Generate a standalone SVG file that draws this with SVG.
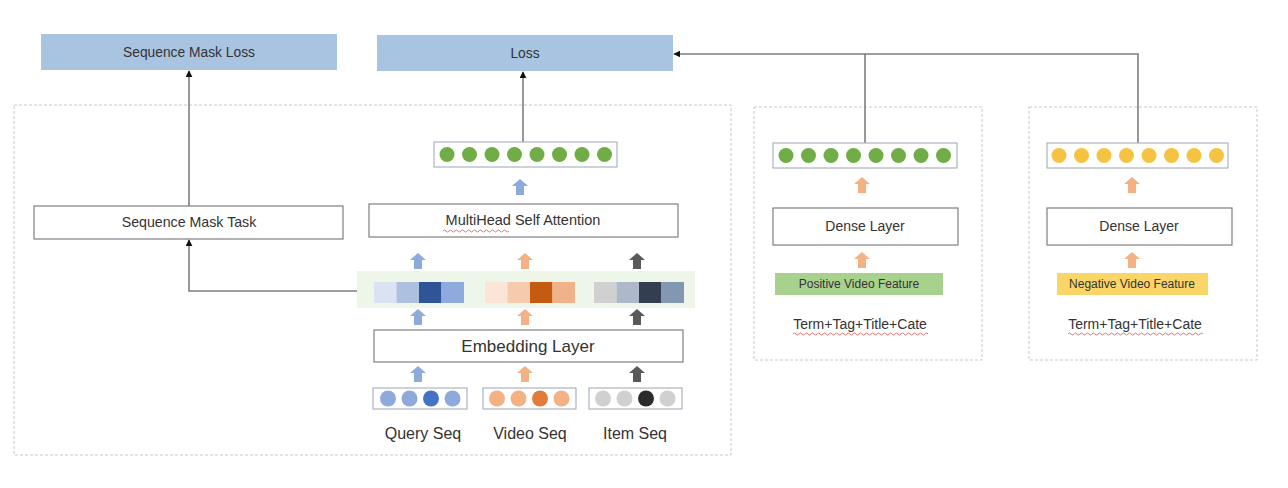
<svg xmlns="http://www.w3.org/2000/svg" xmlns:xlink="http://www.w3.org/1999/xlink" width="1288" height="488" viewBox="0 0 1288 488">
<defs>
<style>
.t{font-family:"Liberation Sans",Arial,sans-serif;fill:#333;text-anchor:middle}
.loss{fill:#a8c4e0}
.box{fill:#fff;stroke:#7f7f7f;stroke-width:1.2}
.dash{fill:none;stroke:#c8c8c8;stroke-width:1;stroke-dasharray:3 2}
.conn{fill:none;stroke:#7f7f7f;stroke-width:1.6}
.vbox{fill:#fff;stroke:#9aa5b1;stroke-width:1}
.wavy{fill:none;stroke:#e05050;stroke-width:0.8}
</style>
<marker id="ah" viewBox="0 0 10 10" refX="9" refY="5" markerWidth="7" markerHeight="7" orient="auto" markerUnits="userSpaceOnUse">
<path d="M0,0 L10,5 L0,10 Z" fill="#111"/>
</marker>
<path id="ba" d="M0,0 L8,7 L4,7 L4,16 L-4,16 L-4,7 L-8,7 Z"/>
<g id="g8">
<circle cx="0" cy="0" r="7.5"/><circle cx="22.5" cy="0" r="7.5"/><circle cx="45" cy="0" r="7.5"/><circle cx="67.5" cy="0" r="7.5"/>
<circle cx="90" cy="0" r="7.5"/><circle cx="112.5" cy="0" r="7.5"/><circle cx="135" cy="0" r="7.5"/><circle cx="157.5" cy="0" r="7.5"/>
</g>
</defs>
<rect width="1288" height="488" fill="#fff"/>

<!-- containers -->
<g id="containers">
<rect class="dash" x="14" y="105" width="717" height="350"/>
<rect class="dash" x="754" y="107" width="228" height="253"/>
<rect class="dash" x="1029" y="107" width="228" height="253"/>
</g>

<g id="connectors">
<path class="conn" d="M189,206 V71" marker-end="url(#ah)"/>
<path class="conn" d="M523,142 V72" marker-end="url(#ah)"/>
<path class="conn" d="M360,291 H189 V240" marker-end="url(#ah)"/>
<path class="conn" d="M865,143 V54 H674" marker-end="url(#ah)"/>
<path class="conn" d="M1138,143 V54 H865"/>
</g>

<g id="seq-mask-loss">
<rect class="loss" x="41" y="34" width="296" height="36"/>
<text class="t" x="189" y="57" font-size="13.8">Sequence Mask Loss</text>
</g>
<g id="loss">
<rect class="loss" x="377" y="35" width="296" height="36"/>
<text class="t" x="525" y="58" font-size="13.8">Loss</text>
</g>

<g id="seq-mask-task">
<rect class="box" x="34" y="206" width="309" height="33"/>
<text class="t" x="189" y="227" font-size="14.2">Sequence Mask Task</text>
</g>

<g id="output-vector">
<rect class="vbox" x="434" y="142" width="183" height="25"/>
<use xlink:href="#g8" x="447" y="154.5" fill="#70ad47"/>
<use xlink:href="#ba" x="520" y="179" fill="#8eaadb"/>
</g>

<g id="mhsa">
<rect class="box" x="369" y="204" width="309" height="33"/>
<text class="t" x="523" y="225" font-size="14.5">MultiHead Self Attention</text>
<path class="wavy" d="M443,231 q1.5,-2 3,0 t3,0 t3,0 t3,0 t3,0 t3,0 t3,0 t3,0 t3,0 t3,0 t3,0 t3,0 t3,0 t3,0 t3,0 t3,0 t3,0 t3,0 t3,0 t3,0 t3,0 t3,0"/>
</g>

<g id="embedding-strip">
<rect x="357" y="271" width="338" height="37" fill="#eef5e9"/>
<use xlink:href="#ba" x="418" y="253" fill="#8eaadb"/>
<use xlink:href="#ba" x="525" y="253" fill="#f4b183"/>
<use xlink:href="#ba" x="637" y="253" fill="#595959"/>
<rect x="374" y="282" width="22.5" height="21" fill="#dae3f3"/>
<rect x="396.5" y="282" width="22.5" height="21" fill="#adc0e0"/>
<rect x="419" y="282" width="22.5" height="21" fill="#2f5597"/>
<rect x="441.5" y="282" width="22.5" height="21" fill="#8faadc"/>
<rect x="485" y="282" width="22.5" height="21" fill="#fbe5d6"/>
<rect x="507.5" y="282" width="22.5" height="21" fill="#f6cbad"/>
<rect x="530" y="282" width="22.5" height="21" fill="#c55a11"/>
<rect x="552.5" y="282" width="22.5" height="21" fill="#f0b28b"/>
<rect x="594" y="282" width="22.5" height="21" fill="#d0d0d0"/>
<rect x="616.5" y="282" width="22.5" height="21" fill="#adb9ca"/>
<rect x="639" y="282" width="22.5" height="21" fill="#333f50"/>
<rect x="661.5" y="282" width="22.5" height="21" fill="#8497b0"/>
<use xlink:href="#ba" x="418" y="309" fill="#8eaadb"/>
<use xlink:href="#ba" x="525" y="309" fill="#f4b183"/>
<use xlink:href="#ba" x="637" y="309" fill="#595959"/>
</g>

<g id="embedding-layer">
<rect class="box" x="374" y="330" width="309" height="32"/>
<text class="t" x="528" y="352" font-size="17">Embedding Layer</text>
</g>

<g id="query-seq">
<use xlink:href="#ba" x="418" y="366" fill="#8eaadb"/>
<rect class="vbox" x="373" y="388" width="94" height="21"/>
<circle cx="388" cy="398.5" r="8" fill="#8eaadb"/>
<circle cx="409.5" cy="398.5" r="8" fill="#8eaadb"/>
<circle cx="431" cy="398.5" r="8" fill="#4472c4"/>
<circle cx="452.5" cy="398.5" r="8" fill="#8eaadb"/>
<text class="t" x="423" y="439" font-size="16">Query Seq</text>
</g>
<g id="video-seq">
<use xlink:href="#ba" x="525" y="366" fill="#f4b183"/>
<rect class="vbox" x="483" y="388" width="93" height="21"/>
<circle cx="497" cy="398.5" r="8" fill="#f4b183"/>
<circle cx="518.5" cy="398.5" r="8" fill="#f4b183"/>
<circle cx="540" cy="398.5" r="8" fill="#e07b39"/>
<circle cx="561.5" cy="398.5" r="8" fill="#f4b183"/>
<text class="t" x="530" y="439" font-size="16">Video Seq</text>
</g>
<g id="item-seq">
<use xlink:href="#ba" x="637" y="366" fill="#595959"/>
<rect class="vbox" x="589" y="388" width="93" height="21"/>
<circle cx="603" cy="398.5" r="8" fill="#d0d0d0"/>
<circle cx="624.5" cy="398.5" r="8" fill="#d0d0d0"/>
<circle cx="646" cy="398.5" r="8" fill="#2b2b2b"/>
<circle cx="667.5" cy="398.5" r="8" fill="#d0d0d0"/>
<text class="t" x="635" y="439" font-size="16">Item Seq</text>
</g>

<g id="positive-tower">
<rect class="vbox" x="773" y="143" width="184" height="25"/>
<use xlink:href="#g8" x="786" y="155.5" fill="#70ad47"/>
<use xlink:href="#ba" x="862" y="177" fill="#f4b183"/>
<rect class="box" x="773" y="208" width="185" height="37"/>
<text class="t" x="865" y="231" font-size="14">Dense Layer</text>
<use xlink:href="#ba" x="862" y="252" fill="#f4b183"/>
<rect x="775" y="273" width="168" height="22" fill="#a9d18e"/>
<text class="t" x="859" y="288" font-size="12" fill="#333">Positive Video Feature</text>
<text class="t" x="860" y="329" font-size="14">Term+Tag+Title+Cate</text>
<path class="wavy" d="M793,334 q1.5,-2 3,0 t3,0 t3,0 t3,0 t3,0 t3,0 t3,0 t3,0 t3,0 t3,0 t3,0 t3,0 t3,0 t3,0 t3,0 t3,0 t3,0 t3,0 t3,0 t3,0 t3,0 t3,0 t3,0 t3,0 t3,0 t3,0 t3,0 t3,0 t3,0 t3,0 t3,0 t3,0 t3,0 t3,0 t3,0 t3,0 t3,0 t3,0 t3,0 t3,0 t3,0 t3,0 t3,0 t3,0 t3,0"/>
</g>

<g id="negative-tower">
<rect class="vbox" x="1047" y="143" width="181" height="25"/>
<use xlink:href="#g8" x="1059" y="155.5" fill="#f5c242"/>
<use xlink:href="#ba" x="1132" y="177" fill="#f4b183"/>
<rect class="box" x="1047" y="208" width="185" height="37"/>
<text class="t" x="1139" y="231" font-size="14">Dense Layer</text>
<use xlink:href="#ba" x="1132" y="252" fill="#f4b183"/>
<rect x="1057" y="273" width="151" height="22" fill="#f9d667"/>
<text class="t" x="1132" y="288" font-size="12" fill="#333">Negative Video Feature</text>
<text class="t" x="1135" y="329" font-size="14">Term+Tag+Title+Cate</text>
<path class="wavy" d="M1068,334 q1.5,-2 3,0 t3,0 t3,0 t3,0 t3,0 t3,0 t3,0 t3,0 t3,0 t3,0 t3,0 t3,0 t3,0 t3,0 t3,0 t3,0 t3,0 t3,0 t3,0 t3,0 t3,0 t3,0 t3,0 t3,0 t3,0 t3,0 t3,0 t3,0 t3,0 t3,0 t3,0 t3,0 t3,0 t3,0 t3,0 t3,0 t3,0 t3,0 t3,0 t3,0 t3,0 t3,0 t3,0 t3,0 t3,0"/>
</g>
</svg>
